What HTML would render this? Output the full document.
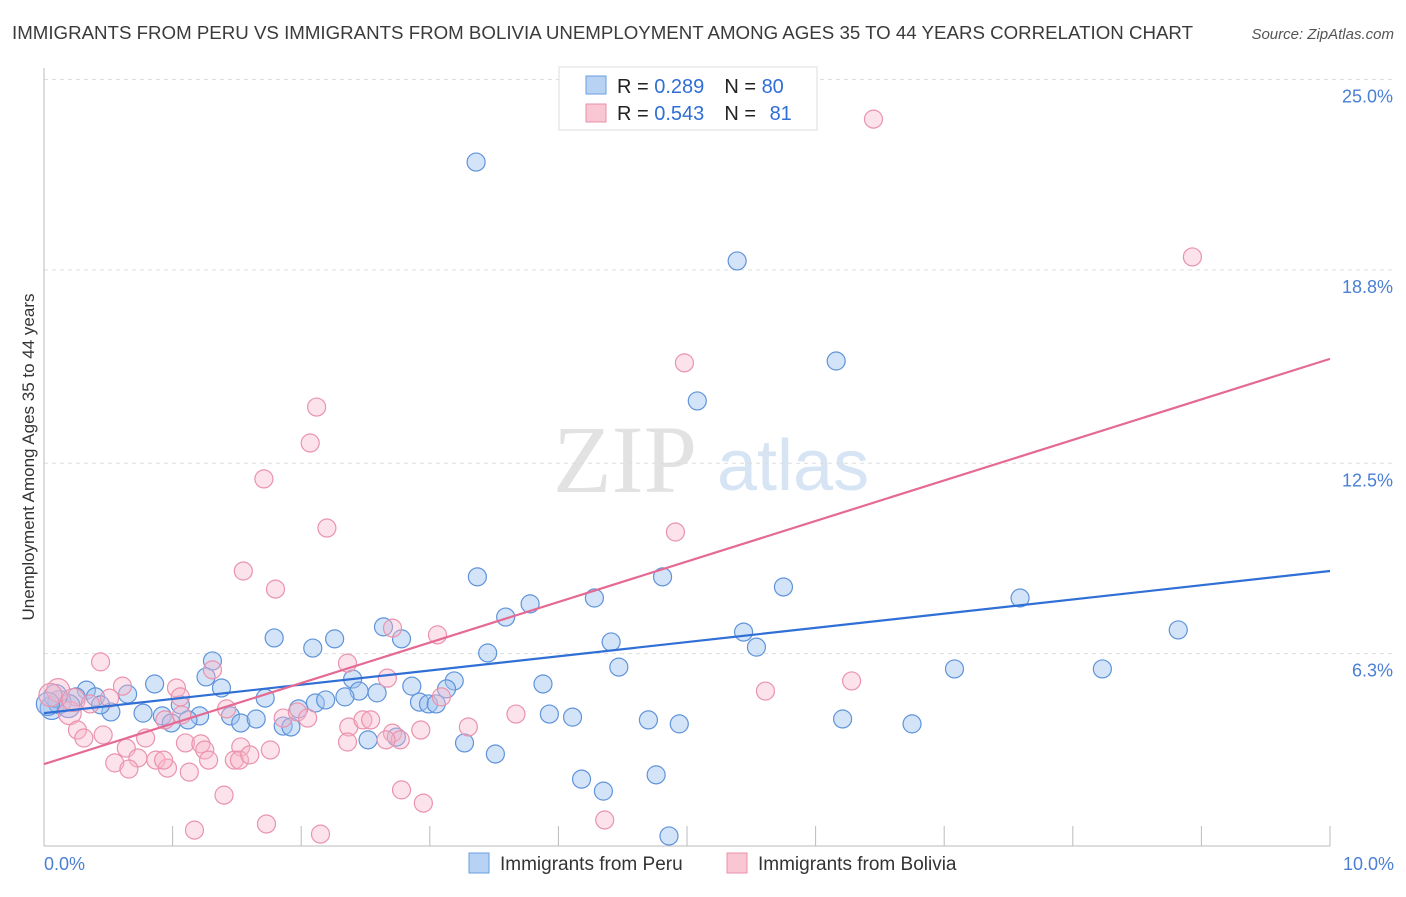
<!DOCTYPE html>
<html><head><meta charset="utf-8"><style>
body{margin:0;background:#fff;font-family:"Liberation Sans",sans-serif}
svg text{font-family:"Liberation Sans",sans-serif}
</style></head><body>
<svg id="chart" width="1406" height="892" viewBox="0 0 1406 892" xmlns="http://www.w3.org/2000/svg">
<text x="12" y="39" font-size="18" fill="#3a3a3a" textLength="1181" lengthAdjust="spacingAndGlyphs">IMMIGRANTS FROM PERU VS IMMIGRANTS FROM BOLIVIA UNEMPLOYMENT AMONG AGES 35 TO 44 YEARS CORRELATION CHART</text>
<text x="1394" y="39" font-size="15" fill="#555" text-anchor="end" font-style="italic">Source: ZipAtlas.com</text>
<g>
<text x="553" y="492" font-size="96" fill="#e2e2e2" font-family="Liberation Serif" style="font-family:'Liberation Serif',serif">ZIP</text>
<text x="717" y="490" font-size="72" fill="#d6e4f4">atlas</text>
</g>
<g id="grid"></g>
<g id="axes"></g>
<g id="pts"></g>
<g id="trends"></g>
<text transform="translate(34,457) rotate(-90)" font-size="17" fill="#333" text-anchor="middle">Unemployment Among Ages 35 to 44 years</text>
<text x="44" y="870" font-size="18" fill="#4a7fd4">0.0%</text>
<text x="1394" y="870" font-size="18" fill="#4a7fd4" text-anchor="end">10.0%</text>
<g>
<rect x="559" y="67" width="258" height="63" fill="#fff" stroke="#ddd"/>
<rect x="586" y="76" width="20" height="18" fill="#b8d2f4" stroke="#6a9ee0"/>
<rect x="586" y="104" width="20" height="18" fill="#f9c6d4" stroke="#e890aa"/>
<text x="617" y="93" font-size="20" fill="#222">R = <tspan fill="#2f6fd6">0.289</tspan><tspan dx="20">N = </tspan><tspan fill="#2f6fd6">80</tspan></text>
<text x="617" y="120" font-size="20" fill="#222">R = <tspan fill="#2f6fd6">0.543</tspan><tspan dx="20">N = </tspan><tspan fill="#2f6fd6" dx="8">81</tspan></text>
</g>
<g>
<rect x="469" y="853" width="20" height="20" fill="#b8d2f4" stroke="#6a9ee0"/>
<text x="500" y="870" font-size="19" fill="#333">Immigrants from Peru</text>
<rect x="727" y="853" width="20" height="20" fill="#f9c6d4" stroke="#e890aa"/>
<text x="758" y="870" font-size="19" fill="#333">Immigrants from Bolivia</text>
</g>
</svg>
<script>
const yTicks=[6.3,12.5,18.8,25.0];
const yTickLabels=["6.3%","12.5%","18.8%","25.0%"];
const xTicks=[0,1,2,3,4,5,6,7,8,9,10];
const peruX=[3.36,5.39,6.16,5.08,3.37,4.81,5.75,3.78,4.28,7.59,3.59,8.82,5.44,4.41,5.54,1.79,2.26,2.64,2.78,2.09,3.45,1.31,4.47,7.08,8.23,1.26,1.38,0.86,0.65,0.33,0.25,0.40,1.72,2.40,2.45,2.59,2.86,3.19,3.13,3.88,2.11,2.19,2.34,2.92,2.99,3.05,1.98,1.06,0.52,0.77,1.21,0.92,1.12,1.45,1.53,1.65,1.86,1.92,0.99,3.93,4.11,4.70,4.94,6.21,6.75,2.74,2.52,3.27,3.51,4.18,4.35,4.76,4.86,0.06,0.12,0.19,0.09,0.44,0.03];
const peruY=[22.31,19.09,15.83,14.53,8.80,8.80,8.47,7.92,8.11,8.11,7.49,7.07,7.00,6.68,6.51,6.81,6.78,7.17,6.78,6.48,6.32,6.06,5.86,5.80,5.80,5.54,5.18,5.31,4.98,5.11,4.89,4.89,4.85,5.47,5.08,5.02,5.24,5.41,5.15,5.31,4.69,4.79,4.89,4.72,4.66,4.66,4.50,4.63,4.40,4.36,4.27,4.27,4.14,4.27,4.04,4.17,3.94,3.91,4.04,4.33,4.23,4.14,4.01,4.17,4.01,3.58,3.49,3.39,3.03,2.21,1.82,2.35,0.36,4.53,4.72,4.59,4.92,4.63,4.66];
const bolX=[6.45,8.93,4.98,2.12,2.07,1.71,2.20,4.91,1.55,1.80,2.71,3.06,0.44,2.36,1.31,0.61,1.03,1.06,0.51,2.67,3.09,5.61,6.28,0.11,0.05,0.20,0.26,0.31,0.46,0.79,0.64,0.94,1.07,1.42,1.86,1.97,2.05,2.37,2.48,2.54,2.93,3.30,3.67,1.10,1.22,1.25,1.53,1.28,1.48,1.52,1.76,0.73,0.55,0.66,0.87,0.96,1.13,0.93,2.36,2.71,2.77,2.78,2.95,1.40,1.73,2.15,1.17,4.36,2.66,1.60,0.23,0.36];
const bolY=[23.71,19.22,15.77,14.33,13.16,11.99,10.39,10.26,8.99,8.40,7.13,6.91,6.03,5.99,5.77,5.24,5.18,4.89,4.85,5.50,4.89,5.08,5.41,5.11,4.95,4.36,3.81,3.55,3.65,3.55,3.22,4.14,4.30,4.50,4.20,4.40,4.20,3.91,4.14,4.14,3.81,3.91,4.33,3.39,3.36,3.16,3.26,2.83,2.83,2.83,3.16,2.90,2.74,2.54,2.83,2.57,2.44,2.83,3.42,3.71,3.49,1.86,1.43,1.69,0.75,0.42,0.55,0.88,3.49,3.00,4.79,4.66];
const peruTrend=[4.36,8.99];
const bolTrend=[2.70,15.90];
const NS="http://www.w3.org/2000/svg";
const X=v=>44+v*128.6;
const Y=v=>847-v*30.7;
function mk(tag,attrs,parent){const e=document.createElementNS(NS,tag);for(const k in attrs)e.setAttribute(k,attrs[k]);parent.appendChild(e);return e;}
const grid=document.getElementById('grid'),axes=document.getElementById('axes'),pts=document.getElementById('pts'),tr=document.getElementById('trends');
yTicks.forEach((t,i)=>{
  const l=mk('line',{x1:44,x2:1394,y1:Y(t),y2:Y(t),stroke:'#ddd','stroke-dasharray':'4,4'},grid);
  
  
  const tx=mk('text',{x:1393,y:Y(t)+23,'font-size':18,fill:'#4a7fd4','text-anchor':'end'},grid);
  tx.textContent=yTickLabels[i];
  
  
});
const ya=mk('line',{x1:44,x2:44,y1:68,y2:846,stroke:'#bbb'},axes);


const xa=mk('line',{x1:44,x2:1330,y1:846,y2:846,stroke:'#bbb'},axes);


xTicks.forEach(t=>{
  const l=mk('line',{x1:X(t),x2:X(t),y1:826,y2:846,stroke:'#bbb'},axes);
  
  
});
function dots(xs,ys,fill,stroke,name){
  xs.forEach((x,i)=>{
    const c=mk('circle',{cx:X(x),cy:Y(ys[i]),r:(x<0.25?11.5:9),fill:fill,stroke:stroke,'stroke-width':1.2},pts);
    
    
  });
}
dots(peruX,peruY,'rgba(160,196,240,0.45)','#5f93da','peru-point');
dots(bolX,bolY,'rgba(248,182,202,0.4)','#ea93ad','bolivia-point');
const t1=mk('line',{x1:X(0),y1:Y(peruTrend[0]),x2:X(10),y2:Y(peruTrend[1]),stroke:'#2f6fd6','stroke-width':2.2},tr);


const t2=mk('line',{x1:X(0),y1:Y(bolTrend[0]),x2:X(10),y2:Y(bolTrend[1]),stroke:'#e56a93','stroke-width':2.2},tr);


</script>
</body></html>
